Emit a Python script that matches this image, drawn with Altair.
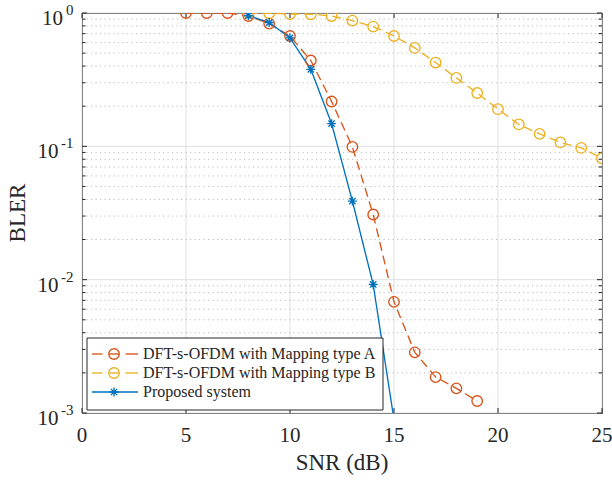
import altair as alt
import pandas as pd

# ---------------- data ----------------
snr_a = [5, 6, 7, 8, 9, 10, 11, 12, 13, 14, 15, 16, 17, 18, 19]
bler_a = [1.0, 1.0, 1.0, 0.95, 0.833, 0.672, 0.44, 0.217, 0.099, 0.0308,
          0.00682, 0.00285, 0.00186, 0.00153, 0.00123]
snr_b = [8, 9, 10, 11, 12, 13, 14, 15, 16, 17, 18, 19, 20, 21, 22, 23, 24, 25]
bler_b = [1.0, 0.995, 0.983, 0.978, 0.95, 0.877, 0.791, 0.672, 0.547, 0.425,
          0.326, 0.251, 0.190, 0.146, 0.124, 0.107, 0.0973, 0.0814]
snr_p = [8, 9, 10, 11, 12, 13, 14, 15]
bler_p = [0.956, 0.848, 0.65, 0.378, 0.148, 0.0388, 0.0092, 0.00089]

names = ["DFT-s-OFDM with Mapping type A", "DFT-s-OFDM with Mapping type B", "Proposed system"]
colors = ["#D95319", "#EDB120", "#0072BD"]

x_ticks = [0, 5, 10, 15, 20, 25]
y_major = [1.0, 0.1, 0.01, 0.001]
y_exps = ["0", "-1", "-2", "-3"]
y_minor = [k * d for d in [0.001, 0.01, 0.1] for k in range(2, 10)]
x_title = "SNR (dB)"
y_title = "BLER"

FONT = "Liberation Serif"
W, H = 520, 400
INK = "#262626"
GRID = "#e0e0e0"

rows = []
for n, xs, ys in [(names[0], snr_a, bler_a), (names[1], snr_b, bler_b), (names[2], snr_p, bler_p)]:
    for xv, yv in zip(xs, ys):
        rows.append({"snr": xv, "bler": yv, "series": n})
df = pd.DataFrame(rows)

df_major = pd.DataFrame({"v": y_major, "e": y_exps})
df_minor = pd.DataFrame({"v": y_minor})
df_xt = pd.DataFrame({"x": x_ticks})
df_leg = pd.DataFrame({"series": names, "i": list(range(len(names)))})

xscale = alt.Scale(domain=[0, 25], nice=False, zero=False)
yscale = alt.Scale(type="log", domain=[0.001, 1], nice=False)
cscale = alt.Scale(domain=names, range=colors)
dscale = alt.Scale(domain=names, range=[[9, 5], [9, 5], [1, 0]])

star = "M-0.85,0L0.85,0M0,-0.85L0,0.85M-0.6,-0.6L0.6,0.6M-0.6,0.6L0.6,-0.6"

X = lambda f: alt.X(f, scale=xscale, axis=None)
Y = lambda f: alt.Y(f, scale=yscale, axis=None)
C = alt.Color("series:N", scale=cscale, legend=None)

# ---------------- grid & ticks ----------------
grid_x = alt.Chart(df_xt).mark_rule(color=GRID, strokeWidth=1).encode(
    x=X("x:Q"), y=alt.value(0), y2=alt.value(H))
grid_y = alt.Chart(df_major).mark_rule(color=GRID, strokeWidth=1).encode(
    y=Y("v:Q"), x=alt.value(0), x2=alt.value(W))
minor_grid = alt.Chart(df_minor).mark_rule(
    color="#b4b4b4", strokeWidth=0.9, strokeDash=[1.2, 3.3]
).encode(y=Y("v:Q"), x=alt.value(0), x2=alt.value(W))

minor_tl = alt.Chart(df_minor).mark_rule(color=INK, strokeWidth=1).encode(
    y=Y("v:Q"), x=alt.value(0), x2=alt.value(3.5))
minor_tr = alt.Chart(df_minor).mark_rule(color=INK, strokeWidth=1).encode(
    y=Y("v:Q"), x=alt.value(W - 3.5), x2=alt.value(W))
major_tl = alt.Chart(df_major).mark_rule(color=INK, strokeWidth=1).encode(
    y=Y("v:Q"), x=alt.value(0), x2=alt.value(5))
major_tr = alt.Chart(df_major).mark_rule(color=INK, strokeWidth=1).encode(
    y=Y("v:Q"), x=alt.value(W - 5), x2=alt.value(W))
x_tb = alt.Chart(df_xt).mark_rule(color=INK, strokeWidth=1).encode(
    x=X("x:Q"), y=alt.value(H - 5), y2=alt.value(H))
x_tt = alt.Chart(df_xt).mark_rule(color=INK, strokeWidth=1).encode(
    x=X("x:Q"), y=alt.value(0), y2=alt.value(5))

# ---------------- data marks ----------------
lines = alt.Chart(df).mark_line(clip=True, strokeWidth=1.35).encode(
    x=X("snr:Q"), y=Y("bler:Q"), color=C,
    strokeDash=alt.StrokeDash("series:N", scale=dscale, legend=None))

circles = alt.Chart(df).transform_filter(
    alt.datum.series != names[2]
).mark_point(clip=True, filled=False, size=110, strokeWidth=1.35, opacity=1,
             shape="circle").encode(x=X("snr:Q"), y=Y("bler:Q"), color=C)
stars = alt.Chart(df).transform_filter(
    alt.datum.series == names[2]
).mark_point(clip=True, filled=False, size=110, strokeWidth=1.35, opacity=1,
             shape=star).encode(x=X("snr:Q"), y=Y("bler:Q"), color=C)

# ---------------- tick labels & titles ----------------
xlabels = alt.Chart(df_xt).mark_text(align="center", baseline="top", font=FONT,
                                     fontSize=21, color=INK).encode(
    x=X("x:Q"), y=alt.value(H + 12), text=alt.Text("x:Q", format="d"))

lbl10 = alt.Chart(df_major).transform_calculate(
    lx="datum.e === '0' ? -19 : -23.5"
).mark_text(align="right", baseline="alphabetic", dy=12, font=FONT, fontSize=21,
            color=INK).encode(
    x=alt.X("lx:Q", scale=None), y=Y("v:Q"), text=alt.value("10"))

lblexp = alt.Chart(df_major).mark_text(align="right", baseline="alphabetic", dy=2,
                                       font=FONT, fontSize=15, color=INK).encode(
    x=alt.value(-8.5), y=Y("v:Q"), text="e:N")

xt = alt.Chart(pd.DataFrame({"t": [x_title]})).mark_text(
    align="center", baseline="alphabetic", font=FONT, fontSize=23, color=INK
).encode(x=alt.value(W / 2), y=alt.value(H + 57), text="t:N")
yt = alt.Chart(pd.DataFrame({"t": [y_title]})).mark_text(
    align="center", baseline="alphabetic", angle=270, font=FONT, fontSize=23, color=INK
).encode(x=alt.value(-57.5), y=alt.value(H / 2), text="t:N")

# ---------------- legend ----------------
LX, LY, LW, LH = 5, 325, 296, 72
leg_box = alt.Chart(pd.DataFrame({"k": [0]})).mark_rect(
    fill="white", stroke=INK, strokeWidth=1
).encode(x=alt.value(LX), x2=alt.value(LX + LW), y=alt.value(LY), y2=alt.value(LY + LH))

leg_base = alt.Chart(df_leg).transform_calculate(ly=f"{LY + 16} + 19 * datum.i")
LYF = alt.Y("ly:Q", scale=None)
ab = alt.datum.i < 2

leg_seg1 = leg_base.transform_filter(ab).mark_rule(strokeWidth=1.35).encode(
    x=alt.value(LX + 5), x2=alt.value(LX + 15.5), y=LYF, color=C)
leg_seg2 = leg_base.transform_filter(ab).mark_rule(strokeWidth=1.35).encode(
    x=alt.value(LX + 22), x2=alt.value(LX + 32), y=LYF, color=C)
leg_seg3 = leg_base.transform_filter(ab).mark_rule(strokeWidth=1.35).encode(
    x=alt.value(LX + 38.5), x2=alt.value(LX + 51), y=LYF, color=C)
leg_segp = leg_base.transform_filter(alt.datum.i == 2).mark_rule(strokeWidth=1.35).encode(
    x=alt.value(LX + 5), x2=alt.value(LX + 51), y=LYF, color=C)
leg_circ = leg_base.transform_filter(ab).mark_point(
    filled=False, size=110, strokeWidth=1.35, opacity=1, shape="circle").encode(
    x=alt.value(LX + 27), y=LYF, color=C)
leg_star = leg_base.transform_filter(alt.datum.i == 2).mark_point(
    filled=False, size=110, strokeWidth=1.35, opacity=1, shape=star).encode(
    x=alt.value(LX + 27), y=LYF, color=C)
leg_text = leg_base.mark_text(align="left", baseline="middle", font=FONT, fontSize=16,
                              color=INK).encode(
    x=alt.value(LX + 56), y=LYF, text="series:N")

chart = alt.layer(
    grid_x, grid_y, minor_grid, minor_tl, minor_tr, major_tl, major_tr, x_tb, x_tt,
    lines, circles, stars, xlabels, lbl10, lblexp, xt, yt,
    leg_box, leg_seg1, leg_seg2, leg_seg3, leg_segp, leg_circ, leg_star, leg_text
).properties(
    width=W, height=H,
    padding={"left": 82, "top": 13, "right": 10, "bottom": 68},
    autosize=alt.AutoSizeParams(type="none"),
    background="white",
).configure_view(stroke=INK, strokeWidth=1)

chart.save("out.html", embed_options={"renderer": "svg", "actions": False})
